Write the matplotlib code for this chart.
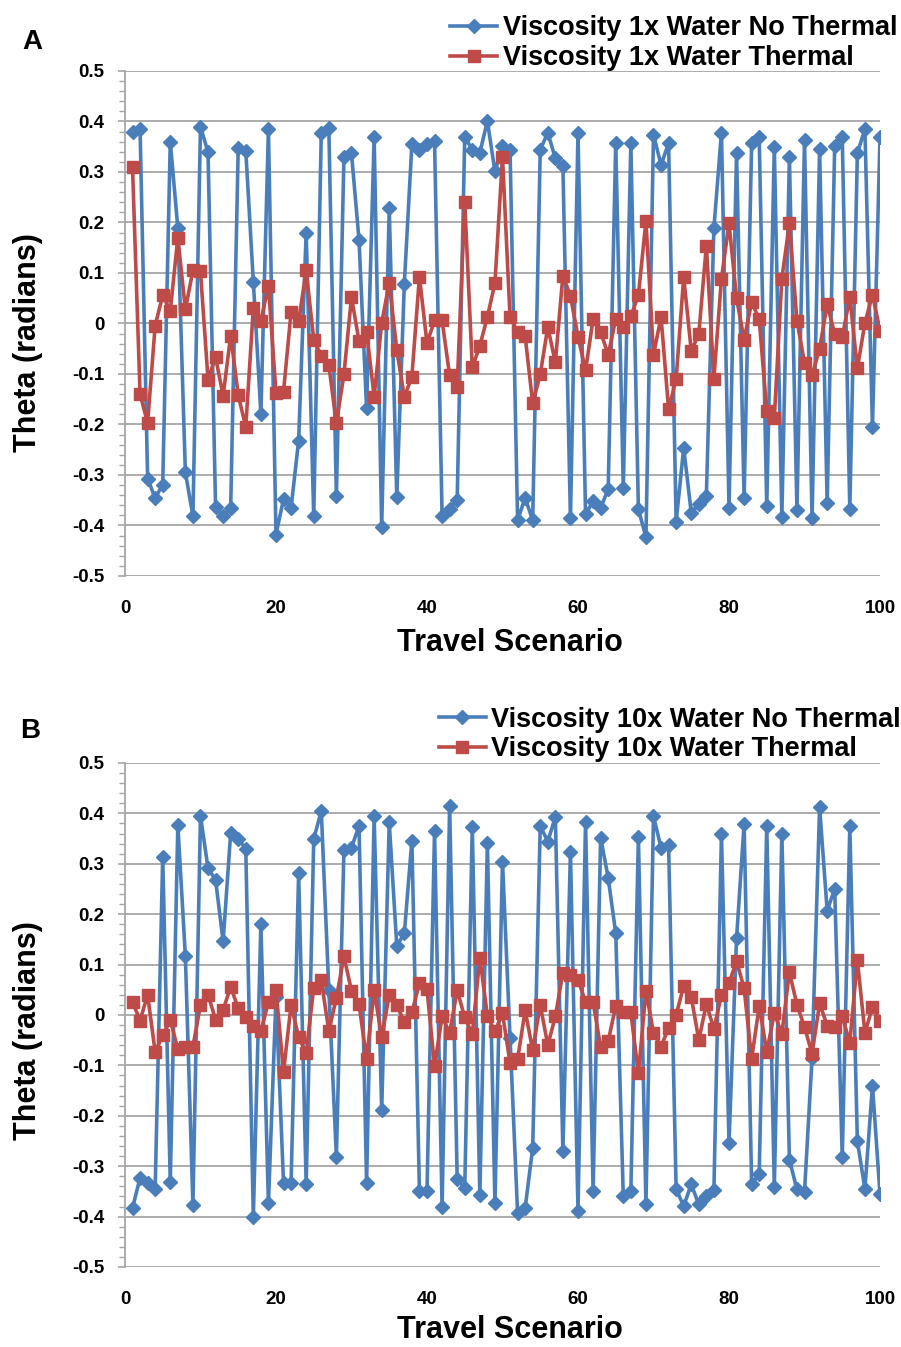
import numpy as np
import matplotlib
matplotlib.use("Agg")
import matplotlib.pyplot as plt
from matplotlib.ticker import MultipleLocator

plt.rcParams["font.family"] = ["Liberation Sans", "DejaVu Sans"]
plt.rcParams["font.weight"] = "bold"

scenario = np.arange(1, 101)

# Panel A: viscosity 1x water
visc1_no_thermal = [
    0.380, 0.385, -0.307, -0.346, -0.319, 0.360, 0.189, -0.295, -0.381, 0.390,
    0.339, -0.364, -0.381, -0.365, 0.348, 0.342, 0.083, -0.179, 0.385, -0.418,
    -0.348, -0.365, -0.232, 0.180, -0.381, 0.377, 0.387, -0.342, 0.329, 0.337,
    0.165, -0.168, 0.369, -0.403, 0.229, -0.343, 0.079, 0.355, 0.344, 0.355,
    0.362, -0.381, -0.368, -0.350, 0.370, 0.344, 0.338, 0.401, 0.301, 0.352,
    0.344, -0.390, -0.345, -0.390, 0.344, 0.378, 0.327, 0.311, -0.386, 0.378,
    -0.378, -0.352, -0.365, -0.328, 0.357, -0.325, 0.357, -0.368, -0.423, 0.374,
    0.314, 0.357, -0.393, -0.246, -0.375, -0.358, -0.342, 0.189, 0.378, -0.365,
    0.338, -0.345, 0.358, 0.369, -0.362, 0.350, -0.383, 0.330, -0.370, 0.364,
    -0.386, 0.346, -0.355, 0.352, 0.370, -0.368, 0.337, 0.385, -0.205, 0.369,
]
visc1_thermal = [
    0.309, -0.140, -0.197, -0.004, 0.056, 0.025, 0.170, 0.028, 0.105, 0.103,
    -0.111, -0.067, -0.143, -0.024, -0.142, -0.205, 0.031, 0.005, 0.075, -0.137,
    -0.135, 0.023, 0.004, 0.105, -0.032, -0.064, -0.083, -0.197, -0.101, 0.052,
    -0.035, -0.016, -0.145, 0.001, 0.081, -0.052, -0.146, -0.105, 0.093, -0.039,
    0.006, 0.006, -0.103, -0.126, 0.241, -0.087, -0.044, 0.013, 0.080, 0.330,
    0.013, -0.017, -0.025, -0.158, -0.101, -0.007, -0.077, 0.095, 0.054, -0.026,
    -0.093, 0.009, -0.017, -0.062, 0.009, -0.007, 0.014, 0.056, 0.203, -0.062,
    0.013, -0.170, -0.110, 0.092, -0.054, -0.021, 0.154, -0.109, 0.089, 0.198,
    0.050, -0.032, 0.042, 0.009, -0.174, -0.188, 0.089, 0.198, 0.005, -0.078,
    -0.103, -0.050, 0.038, -0.021, -0.027, 0.052, -0.089, 0.001, 0.057, -0.014,
]

# Panel B: viscosity 10x water
visc10_no_thermal = [
    -0.383, -0.323, -0.333, -0.345, 0.313, -0.332, 0.377, 0.117, -0.377, 0.395,
    0.291, 0.268, 0.146, 0.361, 0.349, 0.330, -0.401, 0.180, -0.374, 0.035,
    -0.333, -0.333, 0.281, -0.336, 0.349, 0.405, 0.050, -0.281, 0.327, 0.332,
    0.375, -0.334, 0.394, -0.189, 0.382, 0.137, 0.162, 0.346, -0.350, -0.350,
    0.364, -0.381, 0.415, -0.325, -0.344, 0.373, -0.358, 0.341, -0.373, 0.304,
    -0.045, -0.393, -0.383, -0.264, 0.375, 0.344, 0.393, -0.270, 0.323, -0.388,
    0.383, -0.349, 0.352, 0.272, 0.162, -0.360, -0.350, 0.354, -0.376, 0.394,
    0.332, 0.337, -0.346, -0.379, -0.336, -0.376, -0.360, -0.348, 0.359, -0.254,
    0.152, 0.379, -0.336, -0.315, 0.374, -0.342, 0.359, -0.287, -0.346, -0.351,
    -0.085, 0.412, 0.207, 0.250, -0.282, 0.375, -0.250, -0.345, -0.140, -0.356,
]
visc10_thermal = [
    0.026, -0.011, 0.040, -0.074, -0.040, -0.009, -0.068, -0.064, -0.063, 0.020,
    0.040, -0.009, 0.010, 0.056, 0.013, -0.004, -0.022, -0.032, 0.025, 0.050,
    -0.113, 0.020, -0.044, -0.076, 0.054, 0.069, -0.032, 0.034, 0.116, 0.048,
    0.021, -0.088, 0.049, -0.044, 0.040, 0.019, -0.014, 0.005, 0.063, 0.051,
    -0.101, -0.003, -0.036, 0.049, -0.005, -0.038, 0.114, -0.002, -0.032, 0.003,
    -0.095, -0.088, 0.009, -0.070, 0.020, -0.060, -0.003, 0.084, 0.079, 0.070,
    0.026, 0.026, -0.064, -0.052, 0.018, 0.005, 0.005, -0.116, 0.048, -0.036,
    -0.063, -0.025, 0.000, 0.058, 0.036, -0.050, 0.022, -0.028, 0.040, 0.063,
    0.107, 0.053, -0.087, 0.018, -0.073, 0.003, -0.037, 0.085, 0.020, -0.024,
    -0.077, 0.023, -0.021, -0.024, -0.003, -0.055, 0.109, -0.035, 0.015, -0.011,
]

blue = "#4A7EBB"
red = "#BE4B48"
grid_gray = "#A6A6A6"

yticks = np.round(np.arange(-0.5, 0.51, 0.1), 1)
ytick_labels = ["0" if v == 0 else "%g" % v for v in yticks]

fig = plt.figure(figsize=(9.01, 13.47), dpi=100)
ax_a = fig.add_axes([0.1387, 0.5724, 0.838, 0.3749])
ax_b = fig.add_axes([0.1387, 0.0594, 0.838, 0.3742])


def draw_panel(ax, no_thermal, thermal, label_nt, label_t, legend_anchor,
               xlab_y, ylab_y):
    ax.plot(scenario, no_thermal, color=blue, lw=2.6, marker="D", ms=7.5,
            mec=blue, mfc=blue, label=label_nt, zorder=3)
    ax.plot(scenario, thermal, color=red, lw=2.6, marker="s", ms=8.5,
            mec=red, mfc=red, label=label_t, zorder=4)

    ax.set_xlim(0, 100)
    ax.set_ylim(-0.5, 0.5)
    ax.xaxis.set_major_locator(MultipleLocator(20))
    ax.set_yticks(yticks)
    ax.set_yticklabels(ytick_labels)
    ax.yaxis.set_minor_locator(MultipleLocator(0.02))

    ax.grid(True, axis="y", color=grid_gray, lw=1.3)
    ax.set_axisbelow(True)
    for side in ["top", "right", "bottom"]:
        ax.spines[side].set_visible(False)
    ax.spines["left"].set_color(grid_gray)
    ax.spines["left"].set_linewidth(1.3)

    ax.tick_params(axis="y", which="major", length=5, width=1.2, color=grid_gray,
                   labelsize=13.5, pad=10)
    ax.tick_params(axis="y", which="minor", length=4, width=1.0, color=grid_gray)
    ax.tick_params(axis="x", length=0, labelsize=13.5, pad=17)
    for t in ax.get_xticklabels() + ax.get_yticklabels():
        t.set_fontweight("bold")

    ax.set_xlabel("Travel Scenario", fontsize=22, fontweight="bold", va="center")
    ax.xaxis.set_label_coords(0.51, xlab_y)
    ax.set_ylabel("Theta (radians)", fontsize=22, fontweight="bold", va="center")
    ax.yaxis.set_label_coords(-0.128, ylab_y)

    ax.legend(loc="upper right", bbox_to_anchor=legend_anchor,
              bbox_transform=fig.transFigure, frameon=False,
              prop={"size": 19.5, "weight": "bold"},
              handlelength=1.75, handletextpad=0.2, labelspacing=0.14,
              borderpad=0, borderaxespad=0)


draw_panel(ax_a, visc1_no_thermal, visc1_thermal,
           "Viscosity 1x Water No Thermal", "Viscosity 1x Water Thermal",
           (0.996, 0.9885), -0.133, 0.463)
draw_panel(ax_b, visc10_no_thermal, visc10_thermal,
           "Viscosity 10x Water No Thermal", "Viscosity 10x Water Thermal",
           (1.0, 0.4755), -0.126, 0.47)

fig.text(32 / 901, 1 - 42 / 1347, "A", fontsize=20, fontweight="bold",
         ha="center", va="center")
fig.text(30 / 901, 1 - 731 / 1347, "B", fontsize=20, fontweight="bold",
         ha="center", va="center")

fig.savefig("out.png", dpi=100, facecolor="white")
